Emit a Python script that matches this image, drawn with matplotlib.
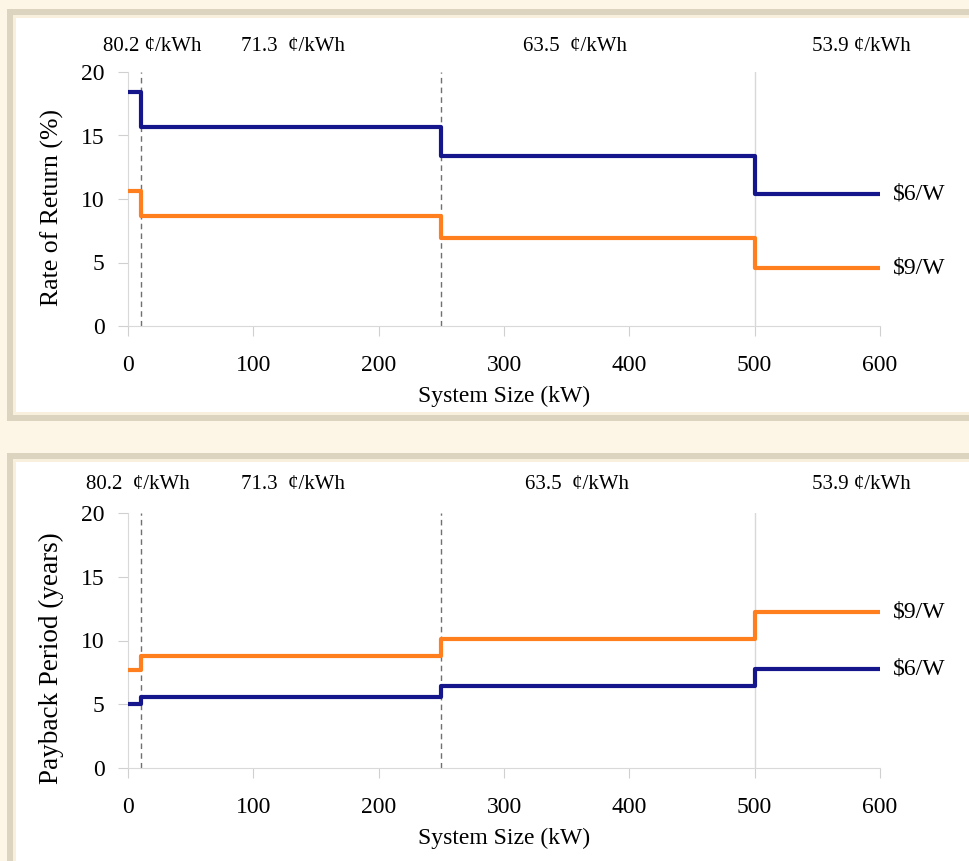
import matplotlib
matplotlib.use("Agg")
import matplotlib.pyplot as plt
from matplotlib.patches import Rectangle

# step breakpoints (kW) and values for each tier
sizes = [0, 10, 250, 500, 600]
ror_6 = [18.4, 15.7, 13.4, 10.4]
ror_9 = [10.6, 8.7, 6.9, 4.6]
pay_6 = [5.0, 5.6, 6.4, 7.8]
pay_9 = [7.7, 8.8, 10.1, 12.2]
tariffs_top = ["80.2 \u00a2/kWh", "71.3  \u00a2/kWh", "63.5  \u00a2/kWh", "53.9 \u00a2/kWh"]
tariffs_bot = ["80.2  \u00a2/kWh", "71.3  \u00a2/kWh", "63.5  \u00a2/kWh", "53.9 \u00a2/kWh"]
tariff_x_top = [19, 132, 357, 585]
tariff_x_bot = [8, 132, 358, 585]
series_names = ["$6/W", "$9/W"]

plt.rcParams['font.family'] = ['Liberation Serif', 'DejaVu Serif']
blue = '#16168C'
orange = '#FF7F1E'

fig = plt.figure(figsize=(9.69, 8.61), dpi=100)
fig.patch.set_facecolor('#FDF5E6')

W, H = 969.0, 861.0
def frame(x0, y0, x1, y1):
    # y measured from top in pixels
    for inset, col in [(0, '#DDD4C0'), (6, '#F8EFDD'), (9, 'white')]:
        r = Rectangle(((x0 + inset) / W, 1 - (y1 - inset) / H),
                      (x1 - x0 - 2 * inset) / W, (y1 - y0 - 2 * inset) / H,
                      transform=fig.transFigure, facecolor=col, edgecolor='none', zorder=-10)
        fig.add_artist(r)

frame(7, 9, 990, 421)
frame(7, 453, 990, 875)

ax1 = fig.add_axes([128 / W, 1 - 326 / H, 752 / W, 254 / H])
ax2 = fig.add_axes([128 / W, 1 - 768 / H, 752 / W, 255 / H])

def draw(ax, s6, s9, ylabel, ysize, ycen, tariffs, tx, lab_y):
    ax.set_facecolor('none')
    ax.axvline(10, color='#707070', ls=(0, (4, 3)), lw=1, zorder=1)
    ax.axvline(250, color='#707070', ls=(0, (4, 3)), lw=1, zorder=1)
    ax.axvline(500, color='#D8D8D8', lw=1, zorder=1)
    ax.step(sizes, s9 + [s9[-1]], where='post', color=orange, lw=3, zorder=3)
    ax.step(sizes, s6 + [s6[-1]], where='post', color=blue, lw=3, zorder=3)
    ax.text(610, s6[-1], series_names[0], fontsize=17, va='center', ha='left')
    ax.text(610, s9[-1], series_names[1], fontsize=17, va='center', ha='left')
    for t, x in zip(tariffs, tx):
        ax.text(x, lab_y, t, fontsize=15, ha='center', va='center',
                transform=ax.get_xaxis_transform())
    ax.set_xlim(0, 600)
    ax.set_ylim(0, 20)
    ax.set_xticks(range(0, 601, 100))
    ax.set_yticks(range(0, 21, 5))
    ax.set_xlabel('System Size (kW)', fontsize=17, labelpad=7)
    ax.set_ylabel(ylabel, fontsize=ysize)
    ax.yaxis.set_label_coords(-64 / 752, ycen)
    for s in ['top', 'right']:
        ax.spines[s].set_visible(False)
    for s in ['left', 'bottom']:
        ax.spines[s].set_color('#D9D9D9')
    ax.tick_params(colors='#D0D0D0', labelcolor='black', labelsize=17, length=7)
    ax.tick_params(axis='x', pad=14)
    ax.tick_params(axis='y', pad=10)

draw(ax1, ror_6, ror_9, 'Rate of Return (%)', 18.5, 0.465, tariffs_top, tariff_x_top, 1.10)
draw(ax2, pay_6, pay_9, 'Payback Period (years)', 19.5, 0.43, tariffs_bot, tariff_x_bot, 1.11)

fig.savefig('out.png', dpi=100, facecolor=fig.get_facecolor())
